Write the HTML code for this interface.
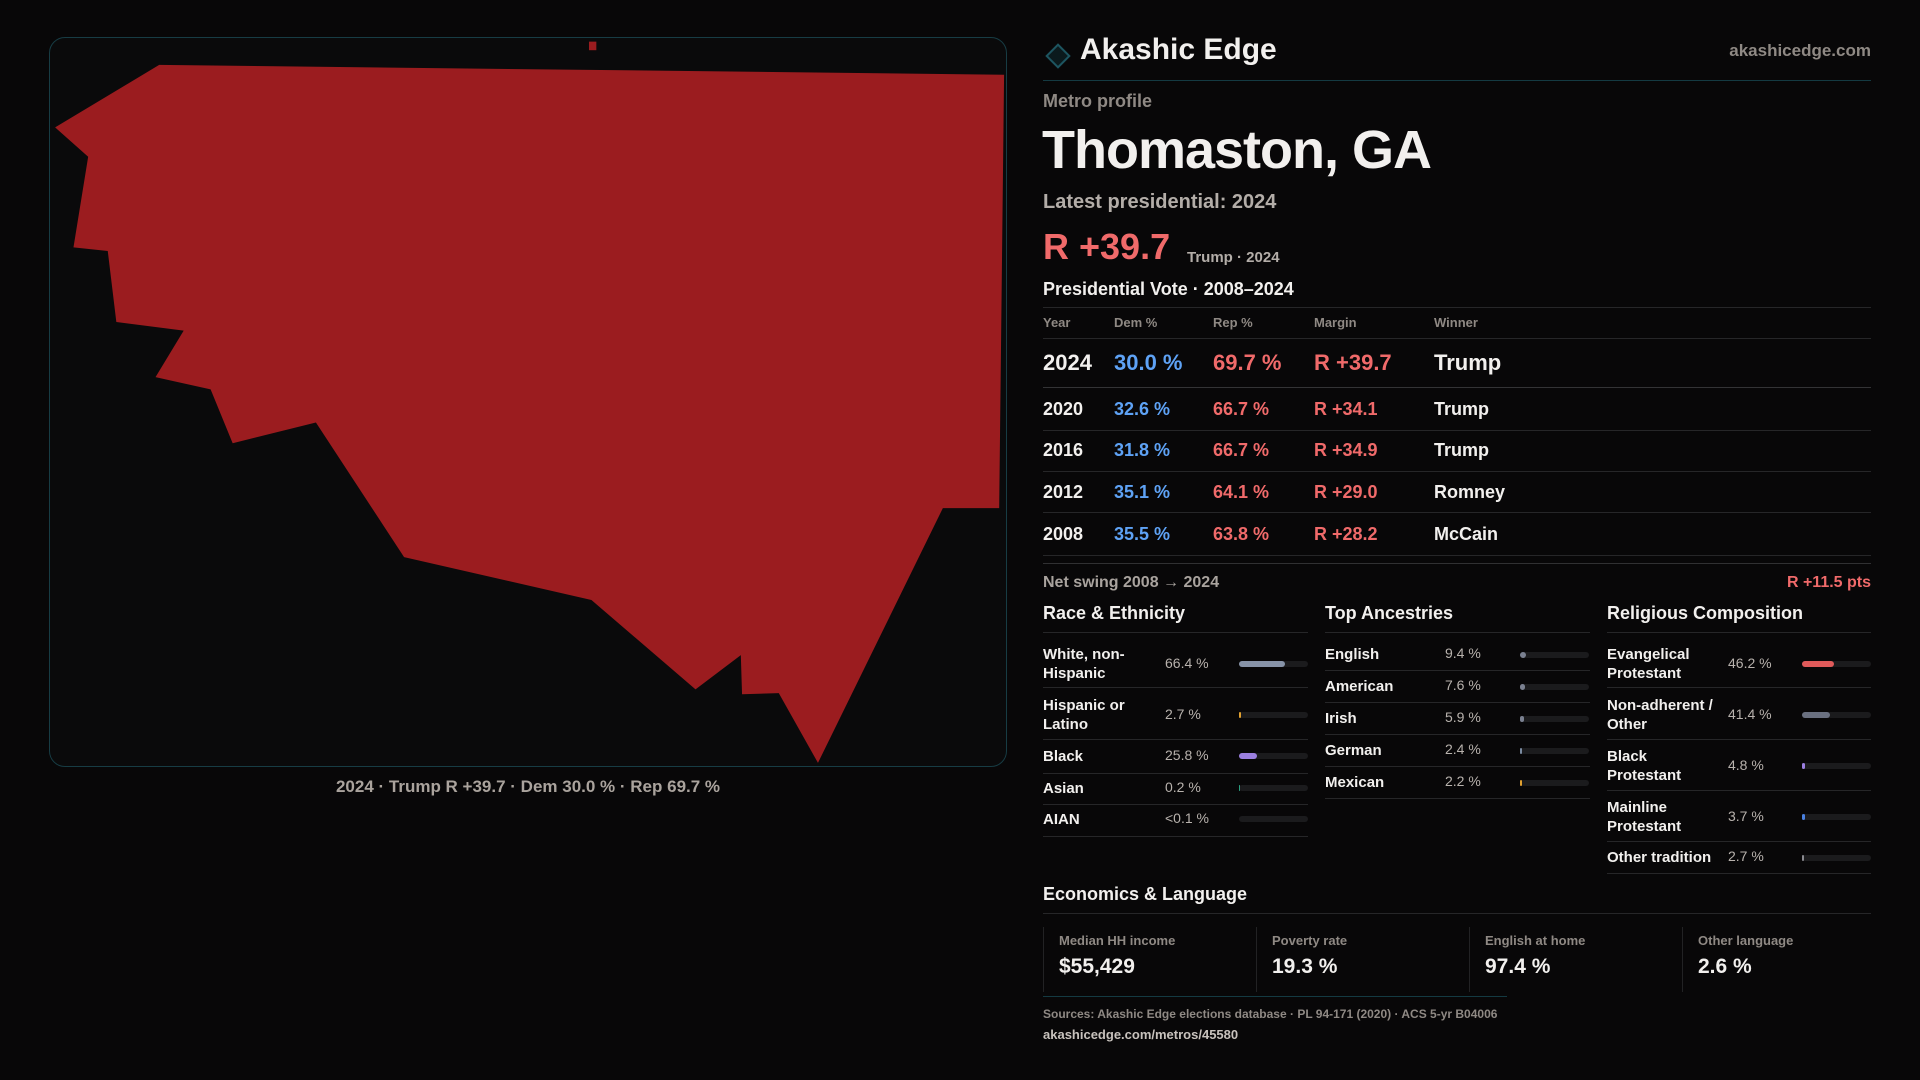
<!DOCTYPE html>
<html><head><meta charset="utf-8"><style>
*{margin:0;padding:0;box-sizing:border-box}
body{width:1920px;height:1080px;background:#080708;font-family:"Liberation Sans",sans-serif;color:#f2f0ee;position:relative;overflow:hidden}
.a{position:absolute;white-space:nowrap}
.ln{position:absolute;height:1px;background:#262628}
.g{color:#8f8984}
.b{color:#5ea2f5}.r{color:#f06a6a}
.tr{position:absolute;height:6px;border-radius:3px;background:#1b1b1d}
.tr i{position:absolute;left:0;top:0;height:6px;border-radius:3px;display:block}
.lab{font-size:15px;font-weight:bold;line-height:19px}
.val{font-size:14px;color:#b8b2ad}
</style></head><body>
<div class="a" style="left:49px;top:37px;width:958px;height:730px;border:1px solid #173c44;border-radius:16px;background:#0a0a0b;overflow:hidden">
<svg width="958" height="730" style="position:absolute;left:-1px;top:-1px">
<g transform="translate(-49,-37) scale(1.2245)">
<polygon fill="#9b1c1f" points="45,104 130,53 820,61 816,415 770,415 668,623 636,566 606,567 605,535 568,563 483,490 330,455 258,345 190,362 172,318 127,308 150,270 95,263 88,205 60,202 72,128"/>
<rect x="481" y="34" width="6" height="7" fill="#9b1c1f"/>
</g></svg></div>
<div class="a" style="left:49px;width:958px;top:777px;text-align:center;font-size:17px;font-weight:bold;color:#aaa39d">2024 · Trump R +39.7 · Dem 30.0 % · Rep 69.7 %</div>

<svg class="a" style="left:1042px;top:40px" width="32" height="32"><rect x="8" y="8" width="16" height="16" transform="rotate(45 16 16)" fill="#0b1a1d" stroke="#1d5560" stroke-width="2"/></svg>
<div class="a" style="left:1080px;top:33px;font-size:30px;font-weight:bold">Akashic Edge</div>
<div class="a g" style="right:49px;top:41px;font-size:17px;font-weight:bold">akashicedge.com</div>
<div class="ln" style="left:1043px;width:828px;top:80px;background:#143a42"></div>
<div class="a g" style="left:1043px;top:91px;font-size:18px;font-weight:bold">Metro profile</div>
<div class="a" style="left:1042px;top:119px;font-size:54px;font-weight:bold;letter-spacing:-1px">Thomaston, GA</div>
<div class="a" style="left:1043px;top:191px;font-size:20px;font-weight:bold;color:#b3ada8">Latest presidential: 2024</div>
<div class="a r" style="left:1043px;top:226px;font-size:36px;font-weight:bold">R +39.7</div>
<div class="a" style="left:1187px;top:249px;font-size:15px;font-weight:bold;color:#b3ada8">Trump · 2024</div>
<div class="a" style="left:1043px;top:279px;font-size:18px;font-weight:bold">Presidential Vote · 2008–2024</div>
<div class="ln" style="left:1043px;width:828px;top:307px"></div>
<div class="a g" style="left:1043px;top:315px;font-size:13px;font-weight:bold">Year</div>
<div class="a g" style="left:1114px;top:315px;font-size:13px;font-weight:bold">Dem %</div>
<div class="a g" style="left:1213px;top:315px;font-size:13px;font-weight:bold">Rep %</div>
<div class="a g" style="left:1314px;top:315px;font-size:13px;font-weight:bold">Margin</div>
<div class="a g" style="left:1434px;top:315px;font-size:13px;font-weight:bold">Winner</div>
<div class="ln" style="left:1043px;width:828px;top:338px"></div>
<div style="font-size:22px;font-weight:bold">
<div class="a" style="left:1043px;top:350px">2024</div><div class="a b" style="left:1114px;top:350px">30.0 %</div><div class="a r" style="left:1213px;top:350px">69.7 %</div><div class="a r" style="left:1314px;top:350px">R +39.7</div><div class="a" style="left:1434px;top:350px">Trump</div></div>
<div class="ln" style="left:1043px;width:828px;top:387px;background:#333335"></div>
<div style="font-size:18px;font-weight:bold">
<div class="a" style="left:1043px;top:399px">2020</div><div class="a b" style="left:1114px;top:399px">32.6 %</div><div class="a r" style="left:1213px;top:399px">66.7 %</div><div class="a r" style="left:1314px;top:399px">R +34.1</div><div class="a" style="left:1434px;top:399px">Trump</div>
<div class="a" style="left:1043px;top:440px">2016</div><div class="a b" style="left:1114px;top:440px">31.8 %</div><div class="a r" style="left:1213px;top:440px">66.7 %</div><div class="a r" style="left:1314px;top:440px">R +34.9</div><div class="a" style="left:1434px;top:440px">Trump</div>
<div class="a" style="left:1043px;top:482px">2012</div><div class="a b" style="left:1114px;top:482px">35.1 %</div><div class="a r" style="left:1213px;top:482px">64.1 %</div><div class="a r" style="left:1314px;top:482px">R +29.0</div><div class="a" style="left:1434px;top:482px">Romney</div>
<div class="a" style="left:1043px;top:524px">2008</div><div class="a b" style="left:1114px;top:524px">35.5 %</div><div class="a r" style="left:1213px;top:524px">63.8 %</div><div class="a r" style="left:1314px;top:524px">R +28.2</div><div class="a" style="left:1434px;top:524px">McCain</div></div>
<div class="ln" style="left:1043px;width:828px;top:430px"></div>
<div class="ln" style="left:1043px;width:828px;top:471px"></div>
<div class="ln" style="left:1043px;width:828px;top:512px"></div>
<div class="ln" style="left:1043px;width:828px;top:555px"></div>
<div class="ln" style="left:1043px;width:828px;top:563px;background:#303032"></div>
<div class="a" style="left:1043px;top:574px;font-size:16px;font-weight:bold;color:#a9a39e">Net swing 2008 → 2024</div>
<div class="a r" style="right:49px;top:574px;font-size:16px;font-weight:bold">R +11.5 pts</div>

<div class="a" style="left:1043px;top:603px;font-size:18px;font-weight:bold">Race &amp; Ethnicity</div>
<div class="a" style="left:1325px;top:603px;font-size:18px;font-weight:bold">Top Ancestries</div>
<div class="a" style="left:1607px;top:603px;font-size:18px;font-weight:bold">Religious Composition</div>
<div class="ln" style="left:1043px;width:265px;top:632px"></div>
<div class="ln" style="left:1325px;width:265px;top:632px"></div>
<div class="ln" style="left:1607px;width:264px;top:632px"></div>

<div class="a lab" style="left:1043px;top:645px">White, non-<br>Hispanic</div><div class="a val" style="left:1165px;top:655px">66.4 %</div>
<div class="tr" style="left:1239px;top:661px;width:69px"><i style="width:46px;background:#8793a8"></i></div>
<div class="ln" style="left:1043px;width:265px;top:687px"></div>
<div class="a lab" style="left:1043px;top:696px">Hispanic or<br>Latino</div><div class="a val" style="left:1165px;top:706px">2.7 %</div>
<div class="tr" style="left:1239px;top:712px;width:69px"><i style="width:2px;background:#e0a030"></i></div>
<div class="ln" style="left:1043px;width:265px;top:739px"></div>
<div class="a lab" style="left:1043px;top:747px">Black</div><div class="a val" style="left:1165px;top:747px">25.8 %</div>
<div class="tr" style="left:1239px;top:753px;width:69px"><i style="width:18px;background:#9b7fe0"></i></div>
<div class="ln" style="left:1043px;width:265px;top:773px"></div>
<div class="a lab" style="left:1043px;top:779px">Asian</div><div class="a val" style="left:1165px;top:779px">0.2 %</div>
<div class="tr" style="left:1239px;top:785px;width:69px"><i style="width:1px;background:#2aa080"></i></div>
<div class="ln" style="left:1043px;width:265px;top:804px"></div>
<div class="a lab" style="left:1043px;top:810px">AIAN</div><div class="a val" style="left:1165px;top:810px">&lt;0.1 %</div>
<div class="tr" style="left:1239px;top:816px;width:69px"></div>
<div class="ln" style="left:1043px;width:265px;top:836px"></div>

<div class="a lab" style="left:1325px;top:645px">English</div><div class="a val" style="left:1445px;top:645px">9.4 %</div>
<div class="tr" style="left:1520px;top:652px;width:69px"><i style="width:6px;background:#7a8090"></i></div>
<div class="ln" style="left:1325px;width:265px;top:670px"></div>
<div class="a lab" style="left:1325px;top:677px">American</div><div class="a val" style="left:1445px;top:677px">7.6 %</div>
<div class="tr" style="left:1520px;top:684px;width:69px"><i style="width:5px;background:#7a8090"></i></div>
<div class="ln" style="left:1325px;width:265px;top:702px"></div>
<div class="a lab" style="left:1325px;top:709px">Irish</div><div class="a val" style="left:1445px;top:709px">5.9 %</div>
<div class="tr" style="left:1520px;top:716px;width:69px"><i style="width:4px;background:#7a8090"></i></div>
<div class="ln" style="left:1325px;width:265px;top:734px"></div>
<div class="a lab" style="left:1325px;top:741px">German</div><div class="a val" style="left:1445px;top:741px">2.4 %</div>
<div class="tr" style="left:1520px;top:748px;width:69px"><i style="width:2px;background:#7a8aa0"></i></div>
<div class="ln" style="left:1325px;width:265px;top:766px"></div>
<div class="a lab" style="left:1325px;top:773px">Mexican</div><div class="a val" style="left:1445px;top:773px">2.2 %</div>
<div class="tr" style="left:1520px;top:780px;width:69px"><i style="width:2px;background:#e0a030"></i></div>
<div class="ln" style="left:1325px;width:265px;top:798px"></div>

<div class="a lab" style="left:1607px;top:645px">Evangelical<br>Protestant</div><div class="a val" style="left:1728px;top:655px">46.2 %</div>
<div class="tr" style="left:1802px;top:661px;width:69px"><i style="width:32px;background:#e05a5a"></i></div>
<div class="ln" style="left:1607px;width:264px;top:687px"></div>
<div class="a lab" style="left:1607px;top:696px">Non-adherent /<br>Other</div><div class="a val" style="left:1728px;top:706px">41.4 %</div>
<div class="tr" style="left:1802px;top:712px;width:69px"><i style="width:28px;background:#6a7080"></i></div>
<div class="ln" style="left:1607px;width:264px;top:739px"></div>
<div class="a lab" style="left:1607px;top:747px">Black<br>Protestant</div><div class="a val" style="left:1728px;top:757px">4.8 %</div>
<div class="tr" style="left:1802px;top:763px;width:69px"><i style="width:3px;background:#9b7fe0"></i></div>
<div class="ln" style="left:1607px;width:264px;top:790px"></div>
<div class="a lab" style="left:1607px;top:798px">Mainline<br>Protestant</div><div class="a val" style="left:1728px;top:808px">3.7 %</div>
<div class="tr" style="left:1802px;top:814px;width:69px"><i style="width:3px;background:#4a80e0"></i></div>
<div class="ln" style="left:1607px;width:264px;top:841px"></div>
<div class="a lab" style="left:1607px;top:848px">Other tradition</div><div class="a val" style="left:1728px;top:848px">2.7 %</div>
<div class="tr" style="left:1802px;top:855px;width:69px"><i style="width:2px;background:#8a8a90"></i></div>
<div class="ln" style="left:1607px;width:264px;top:873px"></div>

<div class="a" style="left:1043px;top:884px;font-size:18px;font-weight:bold">Economics &amp; Language</div>
<div class="ln" style="left:1043px;width:828px;top:913px"></div>
<div class="a" style="left:1043px;top:927px;width:1px;height:65px;background:#222224"></div>
<div class="a" style="left:1256px;top:927px;width:1px;height:65px;background:#222224"></div>
<div class="a" style="left:1469px;top:927px;width:1px;height:65px;background:#222224"></div>
<div class="a" style="left:1682px;top:927px;width:1px;height:65px;background:#222224"></div>
<div class="a g" style="left:1059px;top:933px;font-size:13px;font-weight:bold">Median HH income</div>
<div class="a g" style="left:1272px;top:933px;font-size:13px;font-weight:bold">Poverty rate</div>
<div class="a g" style="left:1485px;top:933px;font-size:13px;font-weight:bold">English at home</div>
<div class="a g" style="left:1698px;top:933px;font-size:13px;font-weight:bold">Other language</div>
<div class="a" style="left:1059px;top:955px;font-size:21px;font-weight:bold">$55,429</div>
<div class="a" style="left:1272px;top:955px;font-size:21px;font-weight:bold">19.3 %</div>
<div class="a" style="left:1485px;top:955px;font-size:21px;font-weight:bold">97.4 %</div>
<div class="a" style="left:1698px;top:955px;font-size:21px;font-weight:bold">2.6 %</div>
<div class="ln" style="left:1043px;width:464px;top:996px;background:#143a42"></div>
<div class="a g" style="left:1043px;top:1007px;font-size:12px;font-weight:bold">Sources: Akashic Edge elections database · PL 94-171 (2020) · ACS 5-yr B04006</div>
<div class="a" style="left:1043px;top:1027px;font-size:13px;font-weight:bold;color:#c8c2bd">akashicedge.com/metros/45580</div>
</body></html>
